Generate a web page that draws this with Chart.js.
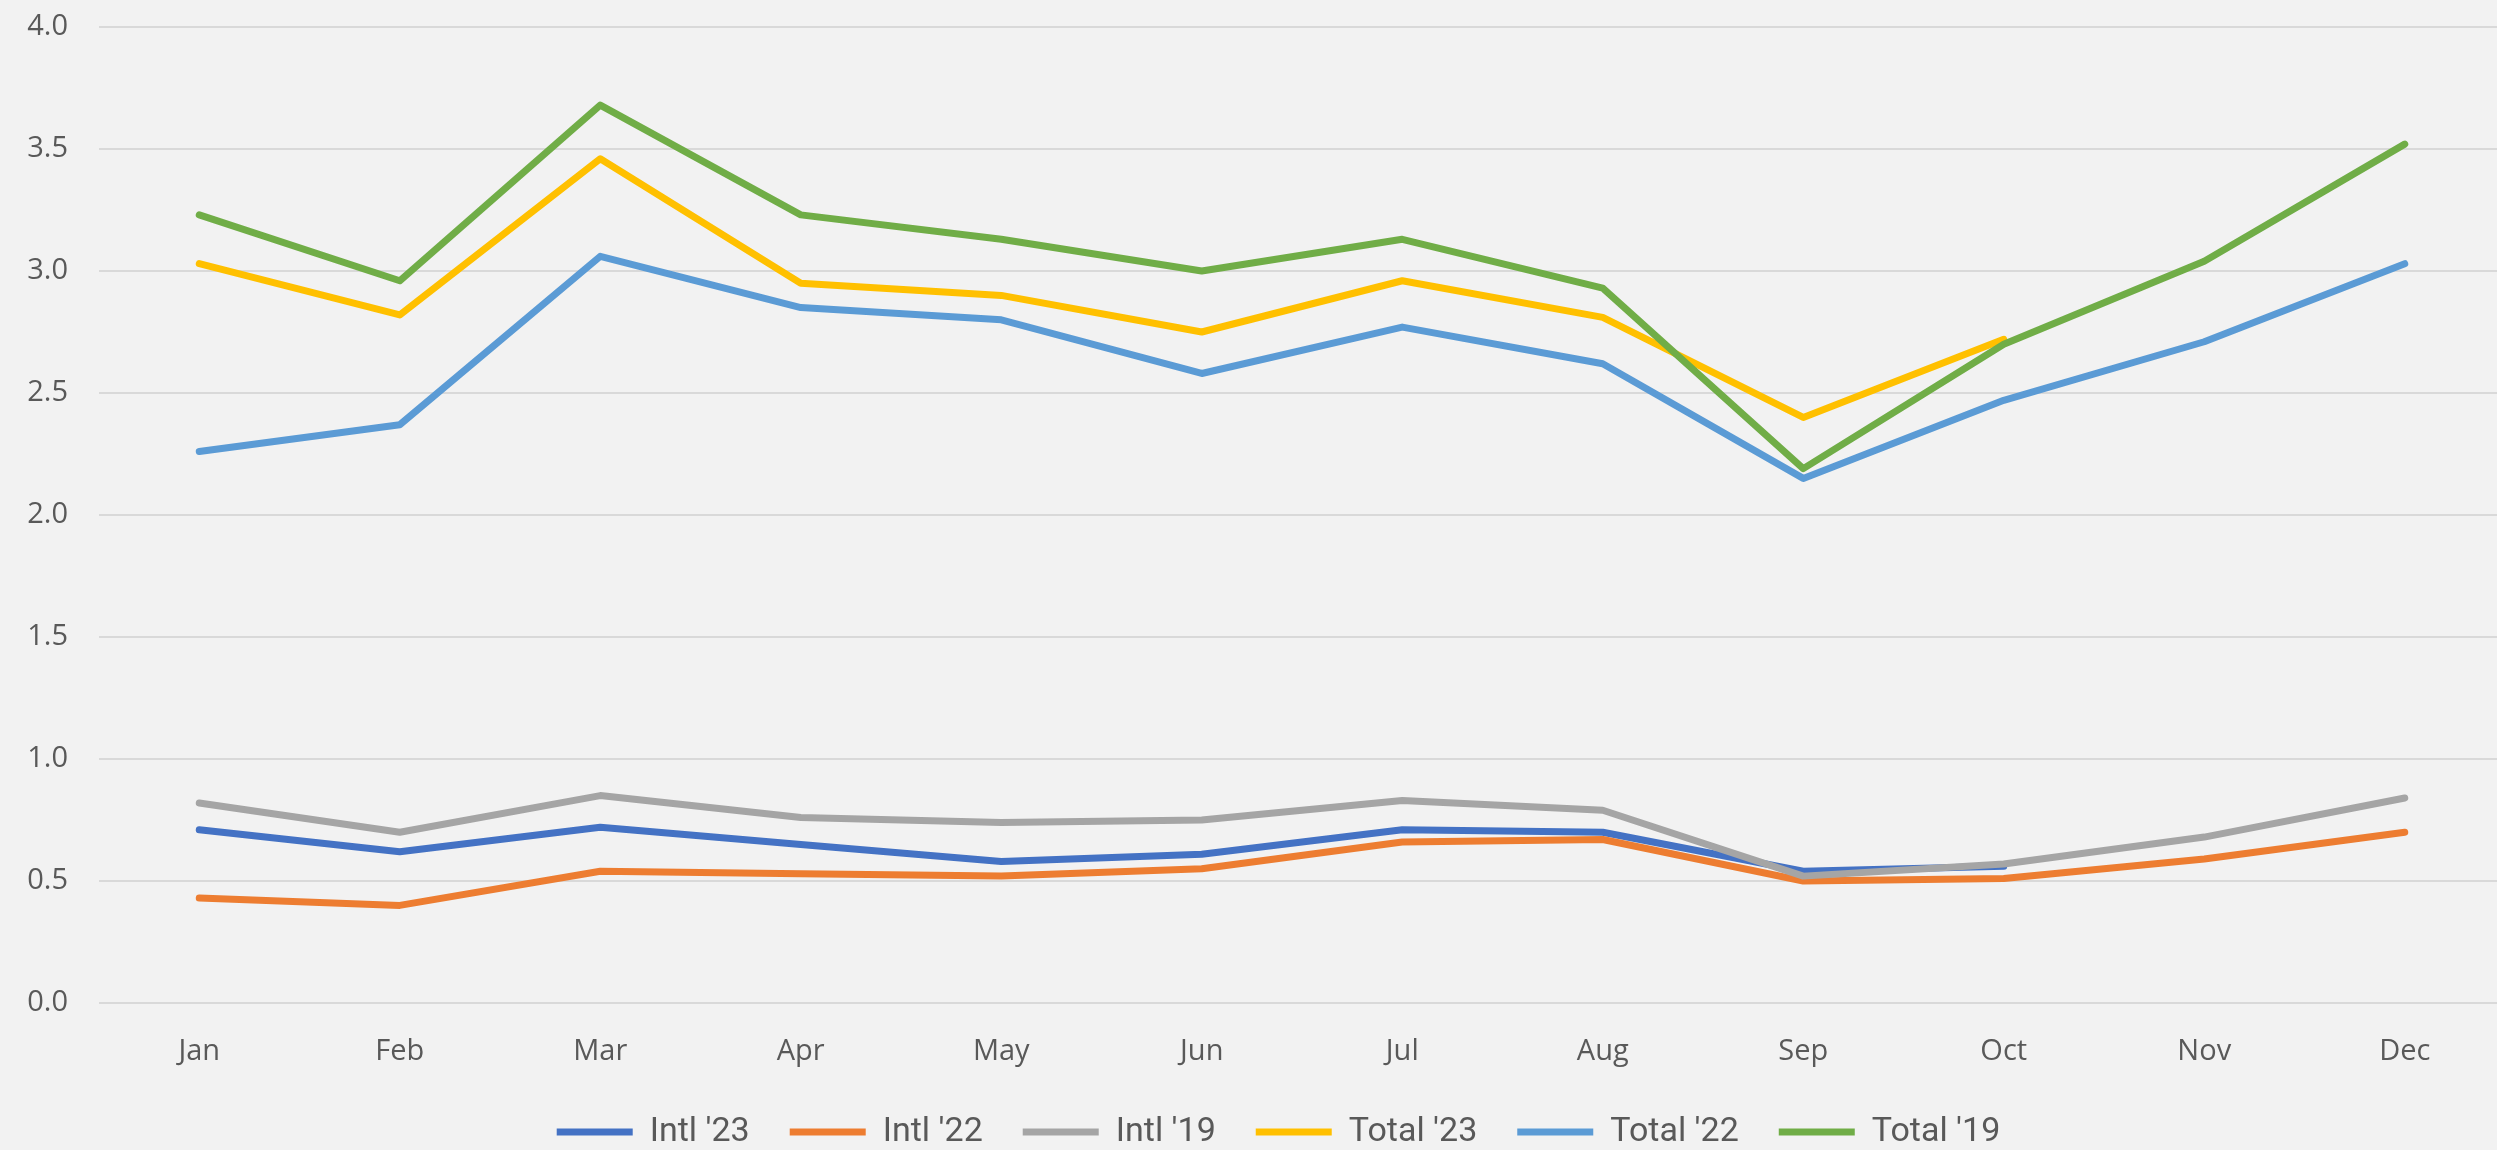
<!DOCTYPE html>
<html>
<head>
<meta charset="utf-8">
<title>Monthly passengers</title>
<script src="https://cdn.jsdelivr.net/npm/chart.js@4.4.1/dist/chart.umd.min.js"></script>
<style>
  html, body { margin: 0; padding: 0; background: #f2f2f2; overflow: hidden; }
  .chart-box { position: relative; width: 2505px; height: 1159px; }
</style>
</head>
<body>
<div class="chart-box"><canvas id="trendChart"></canvas></div>
<script>
const months = ['Jan', 'Feb', 'Mar', 'Apr', 'May', 'Jun', 'Jul', 'Aug', 'Sep', 'Oct', 'Nov', 'Dec'];
const yTicks = [0, 0.5, 1, 1.5, 2, 2.5, 3, 3.5, 4];

const intl23 = [0.71, 0.62, 0.72, 0.65, 0.58, 0.61, 0.71, 0.70, 0.54, 0.56, null, null];
const intl22 = [0.43, 0.40, 0.54, 0.53, 0.52, 0.55, 0.66, 0.67, 0.50, 0.51, 0.59, 0.70];
const intl19 = [0.82, 0.70, 0.85, 0.76, 0.74, 0.75, 0.83, 0.79, 0.52, 0.57, 0.68, 0.84];
const total23 = [3.03, 2.82, 3.46, 2.95, 2.90, 2.75, 2.96, 2.81, 2.40, 2.72, null, null];
const total22 = [2.26, 2.37, 3.06, 2.85, 2.80, 2.58, 2.77, 2.62, 2.15, 2.47, 2.71, 3.03];
const total19 = [3.23, 2.96, 3.68, 3.23, 3.13, 3.00, 3.13, 2.93, 2.19, 2.70, 3.04, 3.52];

(function () {
  const tickFont = { family: "'Open Sans', 'Noto Sans', sans-serif", size: 29 };
  const legendFont = { family: "'Liberation Sans Narrow', 'Roboto', sans-serif", size: 34 };

  // later series sit on top, the legend is flipped back to list order
  const makeSeries = function (label, values, color, order) {
    return {
      label: label,
      data: values,
      borderColor: color,
      backgroundColor: color,
      borderWidth: 7,
      pointBorderWidth: 7,
      pointRadius: 0,
      pointHoverRadius: 0,
      borderJoinStyle: 'round',
      borderCapStyle: 'round',
      tension: 0,
      spanGaps: false,
      order: order
    };
  };

  // nudge the legend row a little to the right of the canvas centre
  const legendShift = {
    id: 'legendShift',
    afterLayout: function (chart) {
      if (!chart.legend) return;
      chart.legend.left += 26;
      chart.legend.right += 26;
    }
  };

  new Chart(document.getElementById('trendChart'), {
    type: 'line',
    plugins: [legendShift],
    data: {
      labels: months,
      datasets: [
        makeSeries("Intl '23", intl23, '#4472c4', 6),
        makeSeries("Intl '22", intl22, '#ed7d31', 5),
        makeSeries("Intl '19", intl19, '#a5a5a5', 4),
        makeSeries("Total '23", total23, '#ffc000', 3),
        makeSeries("Total '22", total22, '#5b9bd5', 2),
        makeSeries("Total '19", total19, '#70ad47', 1)
      ]
    },
    options: {
      responsive: true,
      maintainAspectRatio: false,
      animation: false,
      layout: { padding: { left: 0, top: 27, right: 0, bottom: 0 } },
      plugins: {
        tooltip: { enabled: false },
        legend: {
          position: 'bottom',
          reverse: true,
          labels: {
            usePointStyle: true,
            pointStyle: 'line',
            pointStyleWidth: 76,
            padding: 40,
            color: '#595959',
            font: legendFont
          }
        }
      },
      scales: {
        x: {
          offset: true,
          grid: { display: false },
          border: { display: false },
          ticks: { color: '#595959', font: tickFont, padding: 23, maxRotation: 0 },
          afterFit: function (scale) {
            scale.height = 72;
            scale.paddingLeft = 0;
            scale.paddingRight = 0;
          }
        },
        y: {
          min: 0,
          max: 4,
          afterBuildTicks: function (scale) {
            scale.ticks = yTicks.map(function (v) { return { value: v }; });
          },
          grid: { color: '#d9d9d9', lineWidth: 2, drawTicks: false },
          border: { display: false },
          ticks: {
            color: '#595959',
            font: tickFont,
            padding: 31,
            callback: function (value) { return Number(value).toFixed(1); }
          },
          afterFit: function (scale) {
            scale.width = 99;
            scale.paddingTop = 0;
            scale.paddingBottom = 0;
          }
        }
      }
    }
  });
})();
</script>
</body>
</html>
